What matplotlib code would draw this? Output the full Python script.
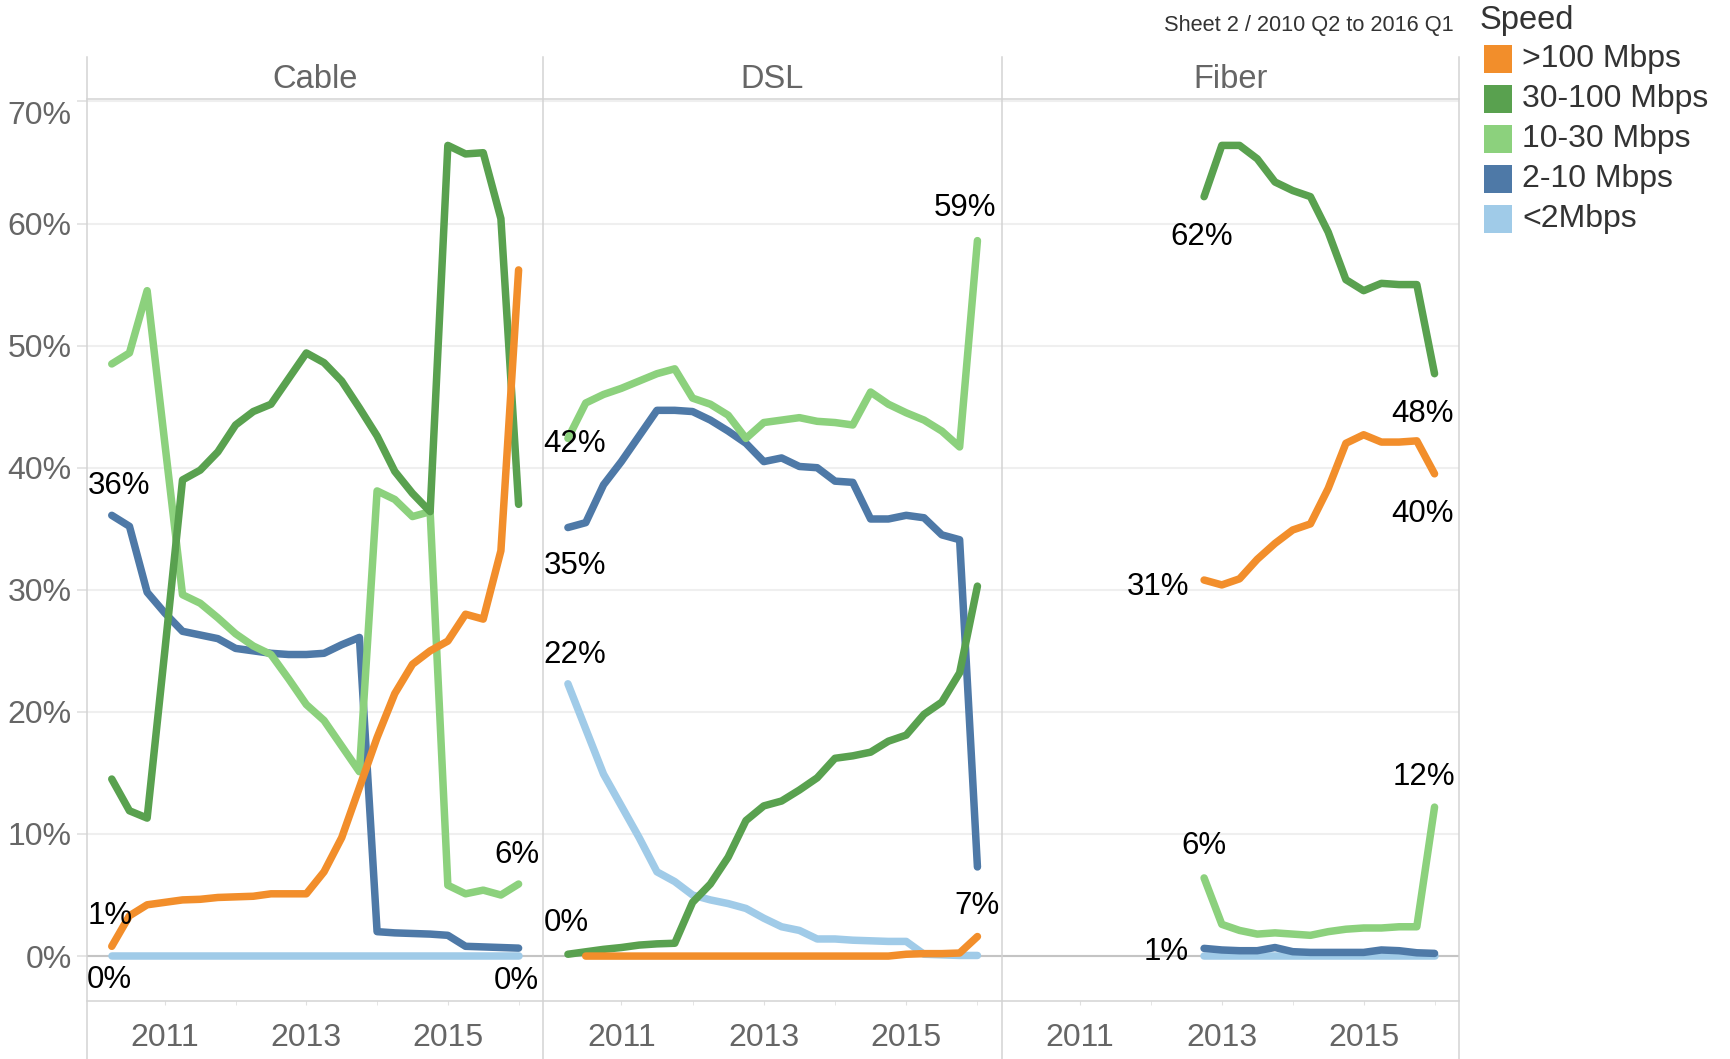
import matplotlib
matplotlib.use('Agg')
import matplotlib.pyplot as plt
from matplotlib.lines import Line2D
from matplotlib.patches import Rectangle
import numpy as np

plt.rcParams['font.family'] = ['Liberation Sans', 'DejaVu Sans']

nan = np.nan

quarters = ['2010 Q2', '2010 Q3', '2010 Q4', '2011 Q1', '2011 Q2', '2011 Q3',
            '2011 Q4', '2012 Q1', '2012 Q2', '2012 Q3', '2012 Q4', '2013 Q1',
            '2013 Q2', '2013 Q3', '2013 Q4', '2014 Q1', '2014 Q2', '2014 Q3',
            '2014 Q4', '2015 Q1', '2015 Q2', '2015 Q3', '2015 Q4', '2016 Q1']

speeds = ['>100 Mbps', '30-100 Mbps', '10-30 Mbps', '2-10 Mbps', '<2Mbps']
colors = ['#F28E2B', '#59A14F', '#8CD17D', '#4E79A7', '#A0CBE8']
panels = ['Cable', 'DSL', 'Fiber']

# share of subscriptions (%) per speed tier
cable_over100 = [0.8, 3.3, 4.2, 4.4, 4.6, 4.65, 4.8, 4.85, 4.9, 5.1, 5.1, 5.1,
                 6.9, 9.7, 13.8, 17.9, 21.5, 23.9, 25.0, 25.8, 28.0, 27.6, 33.2, 56.2]
cable_30_100 = [14.5, 11.9, 11.3, 25.0, 39.0, 39.8, 41.3, 43.5, 44.6, 45.2, 47.3, 49.4,
                48.6, 47.1, 44.9, 42.6, 39.7, 37.9, 36.4, 66.4, 65.7, 65.8, 60.4, 37.0]
cable_10_30 = [48.5, 49.4, 54.5, 42.0, 29.6, 28.9, 27.7, 26.4, 25.4, 24.7, 22.7, 20.6,
               19.3, 17.2, 15.1, 38.1, 37.4, 36.0, 36.4, 5.8, 5.1, 5.4, 5.0, 5.9]
cable_2_10 = [36.1, 35.2, 29.8, 28.1, 26.6, 26.3, 26.0, 25.2, 25.0, 24.8, 24.7, 24.7,
              24.8, 25.5, 26.1, 2.0, 1.9, 1.85, 1.8, 1.7, 0.8, 0.75, 0.7, 0.65]
cable_under2 = [0.0, 0.0, 0.0, 0.0, 0.0, 0.0, 0.0, 0.0, 0.0, 0.0, 0.0, 0.0,
                0.0, 0.0, 0.0, 0.0, 0.0, 0.0, 0.0, 0.0, 0.0, 0.0, 0.0, 0.0]

dsl_over100 = [nan, 0.0, 0.0, 0.0, 0.0, 0.0, 0.0, 0.0, 0.0, 0.0, 0.0, 0.0,
               0.0, 0.0, 0.0, 0.0, 0.0, 0.0, 0.0, 0.15, 0.2, 0.2, 0.25, 1.6]
dsl_30_100 = [0.15, 0.35, 0.55, 0.7, 0.9, 1.0, 1.05, 4.4, 5.9, 8.1, 11.1, 12.3,
              12.7, 13.6, 14.6, 16.2, 16.4, 16.7, 17.6, 18.1, 19.8, 20.8, 23.2, 30.3]
dsl_10_30 = [42.4, 45.3, 46.0, 46.5, 47.1, 47.7, 48.1, 45.7, 45.2, 44.3, 42.4, 43.7,
             43.9, 44.1, 43.8, 43.7, 43.5, 46.2, 45.2, 44.5, 43.9, 43.0, 41.7, 58.6]
dsl_2_10 = [35.1, 35.5, 38.6, 40.5, 42.6, 44.7, 44.7, 44.6, 43.9, 43.0, 42.0, 40.5,
            40.8, 40.1, 40.0, 38.9, 38.8, 35.8, 35.8, 36.1, 35.9, 34.5, 34.1, 7.3]
dsl_under2 = [22.3, 18.6, 14.9, 12.3, 9.7, 6.9, 6.1, 5.0, 4.6, 4.3, 3.9, 3.1,
              2.4, 2.1, 1.4, 1.4, 1.3, 1.25, 1.2, 1.2, 0.15, 0.1, 0.05, 0.05]

fiber_over100 = [nan] * 10 + [30.8, 30.4, 30.9, 32.5, 33.8, 34.9, 35.4, 38.3,
                              42.0, 42.7, 42.1, 42.1, 42.2, 39.5]
fiber_30_100 = [nan] * 10 + [62.2, 66.4, 66.4, 65.3, 63.4, 62.7, 62.2, 59.3,
                             55.4, 54.5, 55.1, 55.0, 55.0, 47.7]
fiber_10_30 = [nan] * 10 + [6.4, 2.6, 2.1, 1.8, 1.9, 1.8, 1.7, 2.0,
                            2.2, 2.3, 2.3, 2.4, 2.4, 12.2]
fiber_2_10 = [nan] * 10 + [0.63, 0.5, 0.44, 0.44, 0.7, 0.36, 0.3, 0.3,
                           0.3, 0.3, 0.5, 0.44, 0.27, 0.22]
fiber_under2 = [nan] * 10 + [0.0, 0.0, 0.0, 0.0, 0.0, 0.0, 0.0, 0.0,
                             0.0, 0.0, 0.0, 0.0, 0.0, 0.0]

data = {
    'Cable': [cable_over100, cable_30_100, cable_10_30, cable_2_10, cable_under2],
    'DSL': [dsl_over100, dsl_30_100, dsl_10_30, dsl_2_10, dsl_under2],
    'Fiber': [fiber_over100, fiber_30_100, fiber_10_30, fiber_2_10, fiber_under2],
}

# (panel, speed index, quarter index, dx px, dy px to label centre, ha)
labels = [
    ('Cable', 3, 0, 7, 33, 'center'),
    ('Cable', 0, 0, -2, 34, 'center'),
    ('Cable', 4, 0, -2, -20, 'center'),
    ('Cable', 2, 23, -2, 33, 'center'),
    ('Cable', 4, 23, -2, -21, 'center'),
    ('DSL', 2, 0, 7, -2, 'center'),
    ('DSL', 3, 0, 7, -35, 'center'),
    ('DSL', 2, 23, -12, 36, 'center'),
    ('DSL', 4, 0, 7, 32, 'center'),
    ('DSL', 1, 0, -2, 35, 'center'),
    ('DSL', 3, 23, 0, -36, 'center'),
    ('Fiber', 1, 10, -2, -37, 'center'),
    ('Fiber', 1, 23, -12, -37, 'center'),
    ('Fiber', 0, 23, -12, -37, 'center'),
    ('Fiber', 0, 10, -15, -3, 'right'),
    ('Fiber', 2, 10, 0, 35, 'center'),
    ('Fiber', 2, 23, -11, 34, 'center'),
    ('Fiber', 3, 10, -15, 0, 'right'),
]


def qx(label):
    year, q = label.split(' Q')
    return int(year) + (int(q) - 1) / 4


x = np.array([qx(q) for q in quarters])

W, H = 1730, 1059
fig = plt.figure(figsize=(W / 100, H / 100), dpi=100)


def fx(px):
    return px / W


def fy(py):
    return 1 - py / H


edges = [87, 543, 1002, 1459]
top, bottom = 99, 1001
gray_txt = '#666666'
border = '#d3d3d3'

axes = []
for k, name in enumerate(panels):
    l, r = edges[k], edges[k + 1]
    ax = fig.add_axes([fx(l), fy(bottom), fx(r - l), (bottom - top) / H])
    for s in ax.spines.values():
        s.set_visible(False)
    ax.set_xlim(2009.90, 2016.345)
    ax.set_ylim(-3.68, 70.2)
    ax.set_yticks(range(0, 71, 10))
    ax.set_yticklabels([f'{v}%' for v in range(0, 71, 10)])
    ax.yaxis.grid(True, color='#efefef', lw=1.5)
    ax.set_axisbelow(True)
    ax.axhline(0, color='#c4c4c4', lw=1.5, zorder=1)
    ax.set_xticks([2011, 2013, 2015])
    ax.set_xticks([2012, 2014, 2016], minor=True)
    ax.tick_params(axis='x', which='both', length=3, color='#e0e0e0',
                   labelsize=23, labelcolor=gray_txt, pad=12.5)
    if k == 0:
        ax.tick_params(axis='y', length=7, color='#e0e0e0', width=1.2,
                       labelsize=23, labelcolor=gray_txt, pad=4)
        ax.get_yticklabels()[-1].set_va('top')
    else:
        ax.tick_params(axis='y', length=0, labelleft=False)

    series = data[name]
    for j in range(len(speeds) - 1, -1, -1):
        ax.plot(x, series[j], color=colors[j], lw=5.4,
                solid_capstyle='round', solid_joinstyle='round', zorder=3 + (4 - j))

    fig.text(fx((l + r) / 2), fy(80), name, ha='center', va='center',
             fontsize=23.5, color=gray_txt)
    axes.append(ax)

# value labels at line ends
cap = 11.5
for name, j, i, dx, dy, ha in labels:
    ax = axes[panels.index(name)]
    v = data[name][j][i]
    ax.annotate(f'{round(v)}%', xy=(x[i], v), xytext=(dx, dy - cap),
                textcoords='offset pixels', ha=ha, va='baseline',
                fontsize=22.5, color='black', zorder=10)

# panel borders
for e in edges:
    fig.add_artist(Line2D([fx(e), fx(e)], [fy(57), fy(H)], color=border, lw=1.1))
for yy in (top, bottom):
    fig.add_artist(Line2D([fx(edges[0]), fx(edges[-1])], [fy(yy), fy(yy)],
                          color=border, lw=1.1))

# subtitle
fig.text(fx(1454), fy(25), 'Sheet 2 / 2010 Q2 to 2016 Q1', ha='right', va='center',
         fontsize=15.7, color='#333333')

# legend
fig.text(fx(1480), fy(21), 'Speed', ha='left', va='center', fontsize=23.5, color='#333333')
for j, (lab, c) in enumerate(zip(speeds, colors)):
    yc = 59 + 40 * j
    fig.add_artist(Rectangle((fx(1484), fy(yc + 14)), 28 / W, 28 / H,
                             transform=fig.transFigure, color=c, lw=0))
    fig.text(fx(1522), fy(yc), lab, ha='left', va='center', fontsize=23, color='#333333')

fig.savefig('out.png', dpi=100)
plt.close(fig)
